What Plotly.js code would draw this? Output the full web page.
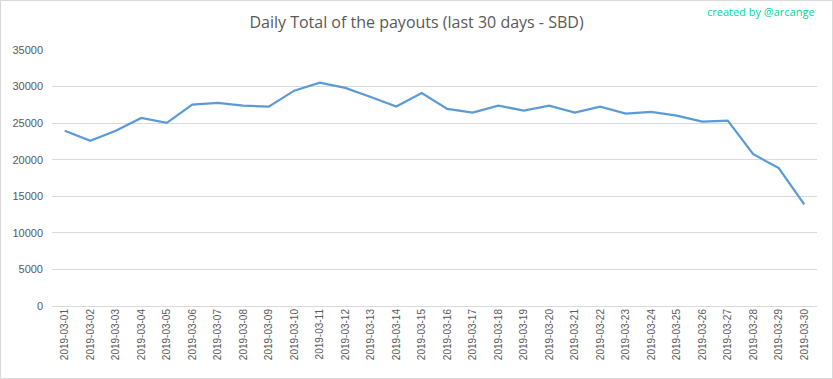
<!DOCTYPE html>
<html>
<head>
<meta charset="utf-8">
<script src="https://cdn.plot.ly/plotly-3.0.1.min.js"></script>
<style>
html,body{margin:0;padding:0;background:#fff;}
#wrap{position:relative;width:833px;height:379px;}
#chart{width:833px;height:379px;}
#frame{position:absolute;left:0;top:0;width:831px;height:377px;border:1px solid #d9d9d9;pointer-events:none;}
</style>
</head>
<body>
<div id="wrap"><div id="chart"></div><div id="frame"></div></div>
<script>
const dates = ["2019-03-01","2019-03-02","2019-03-03","2019-03-04","2019-03-05","2019-03-06","2019-03-07","2019-03-08","2019-03-09","2019-03-10",
"2019-03-11","2019-03-12","2019-03-13","2019-03-14","2019-03-15","2019-03-16","2019-03-17","2019-03-18","2019-03-19","2019-03-20",
"2019-03-21","2019-03-22","2019-03-23","2019-03-24","2019-03-25","2019-03-26","2019-03-27","2019-03-28","2019-03-29","2019-03-30"];
const payouts = [23950,22580,23950,25720,25030,27530,27760,27400,27260,29440,
30530,29810,28580,27260,29130,26940,26440,27400,26710,27400,
26440,27260,26300,26530,26030,25210,25350,20760,18850,13890];
const yTicks = [0,5000,10000,15000,20000,25000,30000,35000];

Plotly.newPlot('chart', [{
  x: dates, y: payouts, type: 'scatter', mode: 'lines',
  line: {color: '#5b9bd5', width: 2.25}
}], {
  width: 833, height: 379,
  margin: {l: 52, r: 16, t: 50, b: 73},
  paper_bgcolor: '#fff', plot_bgcolor: '#fff',
  showlegend: false,
  font: {family: 'Liberation Sans, Arial, sans-serif', color: '#595959'},
  title: {text: 'Daily Total of the payouts (last 30 days - SBD)', x: 0.5, xanchor: 'center', y: 0.94, yanchor: 'middle',
          font: {size: 16, color: '#595959', family: 'Open Sans, sans-serif'}},
  xaxis: {type: 'category', range: [-0.5, dates.length - 0.5], tickangle: -90, tickfont: {size: 10, color: '#595959'},
          showgrid: false, showline: false, zeroline: false, ticks: '', ticklen: 0},
  yaxis: {range: [0, 35000], tickvals: yTicks, ticktext: yTicks.map(String), tickfont: {size: 11, color: '#595959'},
          showgrid: true, gridcolor: '#d9d9d9', gridwidth: 1, zeroline: true, zerolinecolor: '#d9d9d9', zerolinewidth: 1,
          showline: false, ticks: '', ticklabelstandoff: 8},
  annotations: [{text: 'created by @arcange', xref: 'paper', yref: 'paper', x: 1.0, y: 1.15, xanchor: 'right', yanchor: 'middle',
                 showarrow: false, font: {size: 11, color: '#00d9a3', family: 'Open Sans, sans-serif'}}]
}, {displayModeBar: false, staticPlot: true});
</script>
</body>
</html>
